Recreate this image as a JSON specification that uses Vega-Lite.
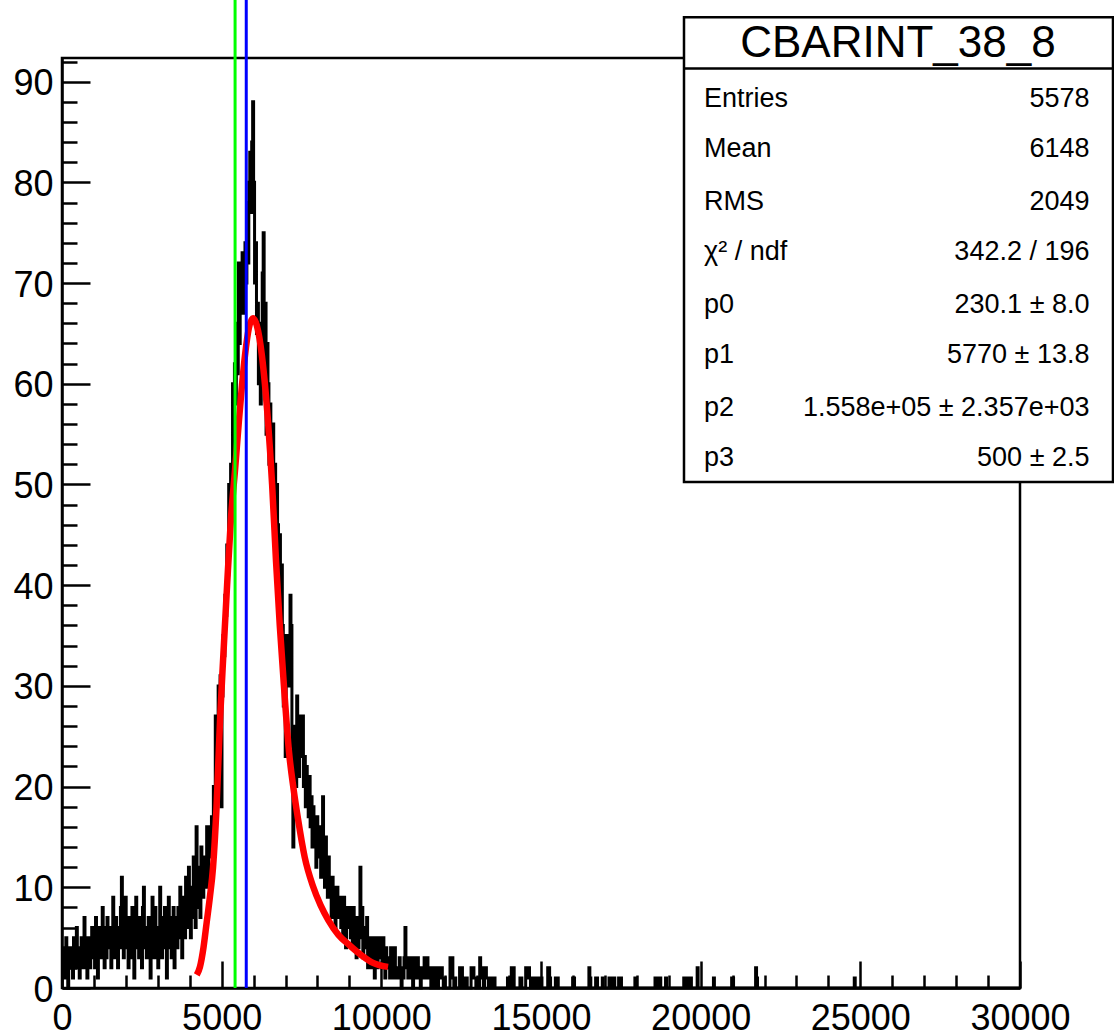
{
  "$schema": "https://vega.github.io/schema/vega-lite/v6.json",
  "width": 958,
  "height": 930,
  "autosize": {"type": "none"},
  "padding": {"left": 62, "top": 58, "right": 94, "bottom": 42},
  "background": "white",
  "config": {
    "view": {"stroke": "black", "strokeWidth": 2.5},
    "font": "Liberation Sans",
    "axis": {"grid": false, "domainColor": "black", "domainWidth": 2.5, "tickColor": "black", "tickWidth": 2.5, "labelColor": "black", "labelFont": "Liberation Sans", "labelFontSize": 36, "title": null, "labelOverlap": false, "labelFlush": false, "labelBound": false}
  },
  "resolve": {"axis": {"x": "independent", "y": "independent"}},
  "datasets": {
    "hist": [
{"x":0,"n":2},{"x":30,"n":4},{"x":60,"n":1},{"x":90,"n":3},{"x":120,"n":5},{"x":150,"n":2},{"x":180,"n":0},{"x":210,"n":3},{"x":240,"n":4},{"x":270,"n":2},
{"x":300,"n":3},{"x":330,"n":1},{"x":360,"n":5},{"x":390,"n":2},{"x":420,"n":4},{"x":450,"n":6},{"x":480,"n":2},{"x":510,"n":3},{"x":540,"n":1},{"x":570,"n":4},
{"x":600,"n":5},{"x":630,"n":3},{"x":660,"n":2},{"x":690,"n":7},{"x":720,"n":4},{"x":750,"n":3},{"x":780,"n":1},{"x":810,"n":5},{"x":840,"n":3},{"x":870,"n":2},
{"x":900,"n":4},{"x":930,"n":6},{"x":960,"n":3},{"x":990,"n":5},{"x":1020,"n":2},{"x":1050,"n":7},{"x":1080,"n":4},{"x":1110,"n":1},{"x":1140,"n":5},{"x":1170,"n":6},
{"x":1200,"n":3},{"x":1230,"n":5},{"x":1260,"n":8},{"x":1290,"n":4},{"x":1320,"n":2},{"x":1350,"n":6},{"x":1380,"n":3},{"x":1410,"n":7},{"x":1440,"n":5},{"x":1470,"n":4},
{"x":1500,"n":6},{"x":1530,"n":2},{"x":1560,"n":5},{"x":1590,"n":9},{"x":1620,"n":4},{"x":1650,"n":3},{"x":1680,"n":7},{"x":1710,"n":5},{"x":1740,"n":2},{"x":1770,"n":6},
{"x":1800,"n":4},{"x":1830,"n":8},{"x":1860,"n":11},{"x":1890,"n":5},{"x":1920,"n":3},{"x":1950,"n":6},{"x":1980,"n":9},{"x":2010,"n":4},{"x":2040,"n":7},{"x":2070,"n":2},
{"x":2100,"n":5},{"x":2130,"n":7},{"x":2160,"n":3},{"x":2190,"n":8},{"x":2220,"n":6},{"x":2250,"n":1},{"x":2280,"n":5},{"x":2310,"n":9},{"x":2340,"n":4},{"x":2370,"n":6},
{"x":2400,"n":3},{"x":2430,"n":7},{"x":2460,"n":5},{"x":2490,"n":2},{"x":2520,"n":8},{"x":2550,"n":10},{"x":2580,"n":4},{"x":2610,"n":6},{"x":2640,"n":3},{"x":2670,"n":5},
{"x":2700,"n":7},{"x":2730,"n":4},{"x":2760,"n":1},{"x":2790,"n":6},{"x":2820,"n":9},{"x":2850,"n":5},{"x":2880,"n":3},{"x":2910,"n":8},{"x":2940,"n":4},{"x":2970,"n":6},
{"x":3000,"n":2},{"x":3030,"n":5},{"x":3060,"n":10},{"x":3090,"n":7},{"x":3120,"n":3},{"x":3150,"n":6},{"x":3180,"n":4},{"x":3210,"n":8},{"x":3240,"n":5},{"x":3270,"n":1},
{"x":3300,"n":6},{"x":3330,"n":9},{"x":3360,"n":4},{"x":3390,"n":7},{"x":3420,"n":3},{"x":3450,"n":5},{"x":3480,"n":8},{"x":3510,"n":2},{"x":3540,"n":6},{"x":3570,"n":7},
{"x":3600,"n":4},{"x":3630,"n":8},{"x":3660,"n":5},{"x":3690,"n":10},{"x":3720,"n":6},{"x":3750,"n":3},{"x":3780,"n":9},{"x":3810,"n":7},{"x":3840,"n":5},{"x":3870,"n":11},
{"x":3900,"n":8},{"x":3930,"n":6},{"x":3960,"n":12},{"x":3990,"n":9},{"x":4020,"n":5},{"x":4050,"n":10},{"x":4080,"n":7},{"x":4110,"n":13},{"x":4140,"n":9},{"x":4170,"n":6},
{"x":4200,"n":16},{"x":4230,"n":10},{"x":4260,"n":8},{"x":4290,"n":12},{"x":4320,"n":7},{"x":4350,"n":14},{"x":4380,"n":11},{"x":4410,"n":9},{"x":4440,"n":13},{"x":4470,"n":10},
{"x":4500,"n":12},{"x":4530,"n":16},{"x":4560,"n":10},{"x":4590,"n":14},{"x":4620,"n":16},{"x":4650,"n":13},{"x":4680,"n":17},{"x":4710,"n":15},{"x":4740,"n":20},{"x":4770,"n":18},
{"x":4800,"n":27},{"x":4830,"n":22},{"x":4860,"n":24},{"x":4890,"n":30},{"x":4920,"n":26},{"x":4950,"n":31},{"x":4980,"n":18},{"x":5010,"n":29},{"x":5040,"n":35},{"x":5070,"n":33},
{"x":5100,"n":39},{"x":5130,"n":37},{"x":5160,"n":44},{"x":5190,"n":41},{"x":5220,"n":50},{"x":5250,"n":46},{"x":5280,"n":52},{"x":5310,"n":48},{"x":5340,"n":60},{"x":5370,"n":55},
{"x":5400,"n":62},{"x":5430,"n":58},{"x":5460,"n":66},{"x":5490,"n":61},{"x":5520,"n":72},{"x":5550,"n":64},{"x":5580,"n":70},{"x":5610,"n":68},{"x":5640,"n":73},{"x":5670,"n":67},
{"x":5700,"n":68},{"x":5730,"n":74},{"x":5760,"n":70},{"x":5790,"n":78},{"x":5820,"n":72},{"x":5850,"n":80},{"x":5880,"n":83},{"x":5910,"n":77},{"x":5940,"n":84},{"x":5970,"n":88},
{"x":6000,"n":80},{"x":6030,"n":70},{"x":6060,"n":74},{"x":6090,"n":65},{"x":6120,"n":68},{"x":6150,"n":60},{"x":6180,"n":66},{"x":6210,"n":58},{"x":6240,"n":63},{"x":6270,"n":71},
{"x":6300,"n":75},{"x":6330,"n":62},{"x":6360,"n":68},{"x":6390,"n":55},{"x":6420,"n":64},{"x":6450,"n":60},{"x":6480,"n":52},{"x":6510,"n":58},{"x":6540,"n":54},{"x":6570,"n":50},
{"x":6600,"n":56},{"x":6630,"n":48},{"x":6660,"n":52},{"x":6690,"n":44},{"x":6720,"n":50},{"x":6750,"n":46},{"x":6780,"n":40},{"x":6810,"n":45},{"x":6840,"n":38},{"x":6870,"n":42},
{"x":6900,"n":36},{"x":6930,"n":28},{"x":6960,"n":35},{"x":6990,"n":23},{"x":7020,"n":32},{"x":7050,"n":35},{"x":7080,"n":30},{"x":7110,"n":33},{"x":7140,"n":39},{"x":7170,"n":36},
{"x":7200,"n":24},{"x":7230,"n":14},{"x":7260,"n":22},{"x":7290,"n":26},{"x":7320,"n":20},{"x":7350,"n":29},{"x":7380,"n":24},{"x":7410,"n":21},{"x":7440,"n":27},{"x":7470,"n":23},
{"x":7500,"n":25},{"x":7530,"n":27},{"x":7560,"n":20},{"x":7590,"n":23},{"x":7620,"n":18},{"x":7650,"n":22},{"x":7680,"n":19},{"x":7710,"n":17},{"x":7740,"n":21},{"x":7770,"n":16},
{"x":7800,"n":19},{"x":7830,"n":14},{"x":7860,"n":18},{"x":7890,"n":15},{"x":7920,"n":16},{"x":7950,"n":12},{"x":7980,"n":17},{"x":8010,"n":14},{"x":8040,"n":13},{"x":8070,"n":16},
{"x":8100,"n":11},{"x":8130,"n":14},{"x":8160,"n":19},{"x":8190,"n":13},{"x":8220,"n":10},{"x":8250,"n":15},{"x":8280,"n":12},{"x":8310,"n":9},{"x":8340,"n":13},{"x":8370,"n":11},
{"x":8400,"n":10},{"x":8430,"n":7},{"x":8460,"n":11},{"x":8490,"n":8},{"x":8520,"n":10},{"x":8550,"n":6},{"x":8580,"n":9},{"x":8610,"n":10},{"x":8640,"n":8},{"x":8670,"n":7},
{"x":8700,"n":9},{"x":8730,"n":6},{"x":8760,"n":8},{"x":8790,"n":5},{"x":8820,"n":9},{"x":8850,"n":7},{"x":8880,"n":4},{"x":8910,"n":8},{"x":8940,"n":6},{"x":8970,"n":7},
{"x":9000,"n":8},{"x":9030,"n":5},{"x":9060,"n":7},{"x":9090,"n":4},{"x":9120,"n":8},{"x":9150,"n":6},{"x":9180,"n":5},{"x":9210,"n":3},{"x":9240,"n":7},{"x":9270,"n":4},
{"x":9300,"n":6},{"x":9330,"n":12},{"x":9360,"n":5},{"x":9390,"n":8},{"x":9420,"n":3},{"x":9450,"n":6},{"x":9480,"n":4},{"x":9510,"n":5},{"x":9540,"n":7},{"x":9570,"n":2},
{"x":9600,"n":5},{"x":9630,"n":3},{"x":9660,"n":4},{"x":9690,"n":2},{"x":9720,"n":5},{"x":9750,"n":3},{"x":9780,"n":1},{"x":9810,"n":4},{"x":9840,"n":5},{"x":9870,"n":2},
{"x":9900,"n":5},{"x":9930,"n":3},{"x":9960,"n":5},{"x":9990,"n":4},{"x":10020,"n":2},{"x":10050,"n":5},{"x":10080,"n":3},{"x":10110,"n":1},{"x":10140,"n":4},{"x":10170,"n":2},
{"x":10200,"n":2},{"x":10230,"n":3},{"x":10260,"n":1},{"x":10290,"n":4},{"x":10320,"n":2},{"x":10350,"n":3},{"x":10380,"n":1},{"x":10410,"n":4},{"x":10440,"n":2},{"x":10470,"n":1},
{"x":10500,"n":2},{"x":10530,"n":1},{"x":10560,"n":3},{"x":10590,"n":2},{"x":10620,"n":0},{"x":10650,"n":2},{"x":10680,"n":1},{"x":10710,"n":3},{"x":10740,"n":6},{"x":10770,"n":2},
{"x":10800,"n":3},{"x":10830,"n":1},{"x":10860,"n":3},{"x":10890,"n":2},{"x":10920,"n":1},{"x":10950,"n":3},{"x":10980,"n":0},{"x":11010,"n":2},{"x":11040,"n":1},{"x":11070,"n":3},
{"x":11100,"n":2},{"x":11130,"n":3},{"x":11160,"n":1},{"x":11190,"n":2},{"x":11220,"n":0},{"x":11250,"n":1},{"x":11280,"n":2},{"x":11310,"n":1},{"x":11340,"n":3},{"x":11370,"n":2},
{"x":11400,"n":1},{"x":11430,"n":3},{"x":11460,"n":2},{"x":11490,"n":1},{"x":11520,"n":2},{"x":11550,"n":0},{"x":11580,"n":1},{"x":11610,"n":2},{"x":11640,"n":1},{"x":11670,"n":0},
{"x":11700,"n":1},{"x":11730,"n":2},{"x":11760,"n":0},{"x":11790,"n":2},{"x":11820,"n":1},{"x":11850,"n":2},{"x":11880,"n":2},{"x":11910,"n":1},{"x":11940,"n":0},{"x":11970,"n":1},
{"x":12000,"n":0},{"x":12030,"n":0},{"x":12060,"n":0},{"x":12090,"n":0},{"x":12120,"n":0},{"x":12150,"n":3},{"x":12180,"n":1},{"x":12210,"n":3},{"x":12240,"n":1},{"x":12270,"n":0},
{"x":12300,"n":1},{"x":12330,"n":0},{"x":12360,"n":0},{"x":12390,"n":0},{"x":12420,"n":0},{"x":12450,"n":2},{"x":12480,"n":1},{"x":12510,"n":2},{"x":12540,"n":0},{"x":12570,"n":1},
{"x":12600,"n":1},{"x":12630,"n":0},{"x":12660,"n":1},{"x":12690,"n":0},{"x":12720,"n":0},{"x":12750,"n":0},{"x":12780,"n":0},{"x":12810,"n":2},{"x":12840,"n":1},{"x":12870,"n":2},
{"x":12900,"n":1},{"x":12930,"n":1},{"x":12960,"n":0},{"x":12990,"n":1},{"x":13020,"n":0},{"x":13050,"n":0},{"x":13080,"n":3},{"x":13110,"n":2},{"x":13140,"n":2},{"x":13170,"n":1},
{"x":13200,"n":0},{"x":13230,"n":1},{"x":13260,"n":2},{"x":13290,"n":1},{"x":13320,"n":1},{"x":13350,"n":0},{"x":13380,"n":1},{"x":13410,"n":1},{"x":13440,"n":0},{"x":13470,"n":0},
{"x":13500,"n":1},{"x":13530,"n":1},{"x":13560,"n":0},
{"x":13950,"n":1},{"x":13980,"n":1},{"x":14010,"n":0},{"x":14070,"n":2},{"x":14100,"n":2},{"x":14130,"n":2},{"x":14160,"n":0},
{"x":14340,"n":1},{"x":14370,"n":1},{"x":14400,"n":0},{"x":14520,"n":2},{"x":14550,"n":2},{"x":14580,"n":1},{"x":14610,"n":2},{"x":14640,"n":1},{"x":14670,"n":0},
{"x":14760,"n":1},{"x":14790,"n":1},{"x":14820,"n":1},{"x":14850,"n":0},{"x":14910,"n":1},{"x":14940,"n":0},{"x":15000,"n":1},{"x":15030,"n":0},
{"x":15210,"n":2},{"x":15240,"n":2},{"x":15270,"n":1},{"x":15300,"n":0},{"x":15450,"n":1},{"x":15480,"n":1},{"x":15510,"n":1},{"x":15540,"n":0},
{"x":15990,"n":1},{"x":16050,"n":0},{"x":16500,"n":2},{"x":16530,"n":1},{"x":16560,"n":0},{"x":16710,"n":1},{"x":16770,"n":0},{"x":16920,"n":1},{"x":16950,"n":0},
{"x":17130,"n":1},{"x":17190,"n":0},{"x":17280,"n":1},{"x":17310,"n":0},{"x":17430,"n":1},{"x":17520,"n":0},{"x":17940,"n":1},{"x":17970,"n":0},
{"x":18570,"n":1},{"x":18630,"n":0},{"x":18720,"n":1},{"x":18750,"n":0},{"x":18900,"n":1},{"x":18930,"n":0},
{"x":19470,"n":1},{"x":19500,"n":0},{"x":19590,"n":1},{"x":19620,"n":0},{"x":19680,"n":1},{"x":19710,"n":0},{"x":19890,"n":2},{"x":19920,"n":0},
{"x":20400,"n":1},{"x":20430,"n":0},{"x":20970,"n":1},{"x":21030,"n":0},{"x":21720,"n":2},{"x":21750,"n":1},{"x":21780,"n":0},
{"x":24810,"n":1},{"x":24840,"n":0},{"x":30000,"n":0}
    ],
    "fit": [
{"x":4220,"f":1.3},{"x":4320,"f":2.1},{"x":4430,"f":4},{"x":4530,"f":6.5},{"x":4630,"f":9},{"x":4730,"f":12},{"x":4840,"f":18},{"x":4950,"f":26.7},{"x":5060,"f":33.5},{"x":5170,"f":40},{"x":5290,"f":46.6},{"x":5420,"f":51.5},{"x":5540,"f":56.3},{"x":5640,"f":60},{"x":5730,"f":62.8},{"x":5850,"f":65.5},{"x":5980,"f":66.5},{"x":6100,"f":65.8},{"x":6260,"f":62.8},{"x":6450,"f":56.3},{"x":6580,"f":50},{"x":6700,"f":42.5},{"x":6820,"f":36},{"x":6950,"f":30},{"x":7110,"f":23.4},{"x":7250,"f":19.8},{"x":7390,"f":16.8},{"x":7600,"f":13},{"x":7860,"f":10.1},{"x":8100,"f":8.2},{"x":8330,"f":6.8},{"x":8650,"f":5.3},{"x":9020,"f":4.2},{"x":9400,"f":3.2},{"x":9740,"f":2.5},{"x":10210,"f":2.1}
    ],
    "vlines": [{"name": "green", "x": 5420}, {"name": "blue", "x": 5770}],
    "box": [{"x": 19478, "x2": 32912, "y": 50.25, "y2": 96.4, "ysep": 91.3}],
    "title": [{"x": 26179, "y": 92.48, "t": "CBARINT_38_8"}],
    "stats": [
      {"k": "Entries", "v": "5578", "y": 87.52},
      {"k": "Mean", "v": "6148", "y": 82.55},
      {"k": "RMS", "v": "2049", "y": 77.26},
      {"k": "χ² / ndf", "v": "342.2 / 196", "y": 72.29},
      {"k": "p0", "v": "230.1 ± 8.0", "y": 67.03},
      {"k": "p1", "v": "5770 ± 13.8", "y": 62.06},
      {"k": "p2", "v": "1.558e+05 ± 2.357e+03", "y": 56.8},
      {"k": "p3", "v": "500  ± 2.5", "y": 51.84}
    ]
  },
  "layer": [
    {
      "data": {"name": "hist"},
      "mark": {"type": "line", "interpolate": "step-after", "color": "black", "strokeWidth": 3},
      "encoding": {
        "x": {"field": "x", "type": "quantitative",
          "scale": {"domain": [0, 30000], "nice": false, "zero": false},
          "axis": {
            "orient": "bottom",
            "values": [0, 5000, 10000, 15000, 20000, 25000, 30000],
            "format": "d",
            "tickSize": -27,
            "labelPadding": 40
          }
        },
        "y": {"field": "n", "type": "quantitative",
          "scale": {"domain": [0, 92.35], "nice": false, "zero": false},
          "axis": {
            "orient": "left",
            "values": [0, 10, 20, 30, 40, 50, 60, 70, 80, 90],
            "format": "d",
            "tickSize": -28,
            "labelPadding": 37,
            "labelOffset": 2
          }
        }
      }
    },
    {
      "data": {"name": "fit"},
      "mark": {"type": "line", "interpolate": "monotone", "color": "#ff0000", "strokeWidth": 6.5},
      "encoding": {
        "x": {"field": "x", "type": "quantitative",
          "axis": {
            "orient": "bottom",
            "values": [1000,2000,3000,4000,6000,7000,8000,9000,11000,12000,13000,14000,16000,17000,18000,19000,21000,22000,23000,24000,26000,27000,28000,29000],
            "labels": false,
            "domain": false,
            "tickSize": -13
          }
        },
        "y": {"field": "f", "type": "quantitative",
          "axis": {
            "orient": "left",
            "values": [2,4,6,8,12,14,16,18,22,24,26,28,32,34,36,38,42,44,46,48,52,54,56,58,62,64,66,68,72,74,76,78,82,84,86,88,92],
            "labels": false,
            "domain": false,
            "tickSize": -15
          }
        }
      }
    },
    {
      "data": {"name": "vlines"},
      "mark": {"type": "rule", "strokeWidth": 3},
      "encoding": {
        "x": {"field": "x", "type": "quantitative", "axis": null},
        "y": {"datum": 0, "type": "quantitative", "axis": null},
        "y2": {"datum": 100},
        "color": {"field": "name", "type": "nominal", "scale": {"domain": ["green", "blue"], "range": ["#00ff00", "#0000ff"]}, "legend": null}
      }
    },
    {
      "data": {"name": "box"},
      "mark": {"type": "rect", "fill": "white", "stroke": "black", "strokeWidth": 2.5},
      "encoding": {
        "x": {"field": "x", "type": "quantitative", "axis": null},
        "x2": {"field": "x2"},
        "y": {"field": "y", "type": "quantitative", "axis": null},
        "y2": {"field": "y2"}
      }
    },
    {
      "data": {"name": "box"},
      "mark": {"type": "rule", "color": "black", "strokeWidth": 2.5},
      "encoding": {
        "x": {"field": "x", "type": "quantitative", "axis": null},
        "x2": {"field": "x2"},
        "y": {"field": "ysep", "type": "quantitative", "axis": null}
      }
    },
    {
      "data": {"name": "title"},
      "mark": {"type": "text", "font": "Liberation Sans", "fontSize": 44, "align": "center", "baseline": "alphabetic", "color": "black"},
      "encoding": {
        "x": {"field": "x", "type": "quantitative", "axis": null},
        "y": {"field": "y", "type": "quantitative", "axis": null},
        "text": {"field": "t"}
      }
    },
    {
      "data": {"name": "stats"},
      "mark": {"type": "text", "font": "Liberation Sans", "fontSize": 27, "align": "left", "baseline": "alphabetic", "color": "black"},
      "encoding": {
        "x": {"datum": 20104, "type": "quantitative", "axis": null},
        "y": {"field": "y", "type": "quantitative", "axis": null},
        "text": {"field": "k"}
      }
    },
    {
      "data": {"name": "stats"},
      "mark": {"type": "text", "font": "Liberation Sans", "fontSize": 27, "align": "right", "baseline": "alphabetic", "color": "black"},
      "encoding": {
        "x": {"datum": 32176, "type": "quantitative", "axis": null},
        "y": {"field": "y", "type": "quantitative", "axis": null},
        "text": {"field": "v"}
      }
    }
  ]
}
